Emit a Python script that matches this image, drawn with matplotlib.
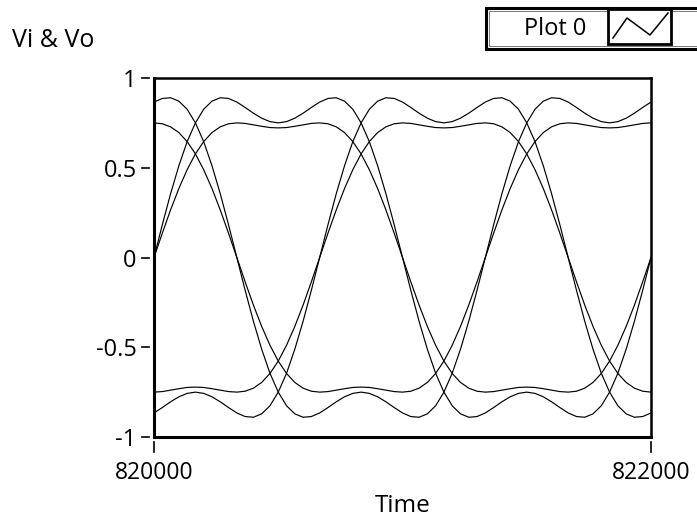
import matplotlib
matplotlib.use("Agg")
import matplotlib.pyplot as plt
import numpy as np
from matplotlib.patches import Rectangle
from matplotlib.lines import Line2D
from matplotlib.transforms import blended_transform_factory

plt.rcParams["font.family"] = ["Open Sans", "DejaVu Sans"]
plt.rcParams["axes.unicode_minus"] = False

# sample times (61 samples, one full period across the x range)
time = np.linspace(820000, 822000, 61)

# three phases, output (outer, rippled) and input (inner, flat-topped)
vo_a = [0.000, 0.182, 0.355, 0.511, 0.645, 0.750, 0.826, 0.871, 0.890, 0.886,
        0.866, 0.836, 0.804, 0.776, 0.757, 0.750, 0.757, 0.776, 0.804, 0.836,
        0.866, 0.886, 0.890, 0.871, 0.826, 0.750, 0.645, 0.511, 0.355, 0.182,
        0.000, -0.182, -0.355, -0.511, -0.645, -0.750, -0.826, -0.871, -0.890, -0.886,
        -0.866, -0.836, -0.804, -0.776, -0.757, -0.750, -0.757, -0.776, -0.804, -0.836,
        -0.866, -0.886, -0.890, -0.871, -0.826, -0.750, -0.645, -0.511, -0.355, -0.182,
        0.000]
vo_b = [0.866, 0.886, 0.890, 0.871, 0.826, 0.750, 0.645, 0.511, 0.355, 0.182,
        0.000, -0.182, -0.355, -0.511, -0.645, -0.750, -0.826, -0.871, -0.890, -0.886,
        -0.866, -0.836, -0.804, -0.776, -0.757, -0.750, -0.757, -0.776, -0.804, -0.836,
        -0.866, -0.886, -0.890, -0.871, -0.826, -0.750, -0.645, -0.511, -0.355, -0.182,
        0.000, 0.182, 0.355, 0.511, 0.645, 0.750, 0.826, 0.871, 0.890, 0.886,
        0.866, 0.836, 0.804, 0.776, 0.757, 0.750, 0.757, 0.776, 0.804, 0.836,
        0.866]
vo_c = [-0.866, -0.836, -0.804, -0.776, -0.757, -0.750, -0.757, -0.776, -0.804, -0.836,
        -0.866, -0.886, -0.890, -0.871, -0.826, -0.750, -0.645, -0.511, -0.355, -0.182,
        0.000, 0.182, 0.355, 0.511, 0.645, 0.750, 0.826, 0.871, 0.890, 0.886,
        0.866, 0.836, 0.804, 0.776, 0.757, 0.750, 0.757, 0.776, 0.804, 0.836,
        0.866, 0.886, 0.890, 0.871, 0.826, 0.750, 0.645, 0.511, 0.355, 0.182,
        0.000, -0.182, -0.355, -0.511, -0.645, -0.750, -0.826, -0.871, -0.890, -0.886,
        -0.866]
vi_a = [0.000, 0.135, 0.265, 0.384, 0.489, 0.577, 0.646, 0.696, 0.728, 0.745,
        0.750, 0.747, 0.739, 0.731, 0.724, 0.722, 0.724, 0.731, 0.739, 0.747,
        0.750, 0.745, 0.728, 0.696, 0.646, 0.577, 0.489, 0.384, 0.265, 0.135,
        0.000, -0.135, -0.265, -0.384, -0.489, -0.577, -0.646, -0.696, -0.728, -0.745,
        -0.750, -0.747, -0.739, -0.731, -0.724, -0.722, -0.724, -0.731, -0.739, -0.747,
        -0.750, -0.745, -0.728, -0.696, -0.646, -0.577, -0.489, -0.384, -0.265, -0.135,
        0.000]
vi_b = [0.750, 0.745, 0.728, 0.696, 0.646, 0.577, 0.489, 0.384, 0.265, 0.135,
        0.000, -0.135, -0.265, -0.384, -0.489, -0.577, -0.646, -0.696, -0.728, -0.745,
        -0.750, -0.747, -0.739, -0.731, -0.724, -0.722, -0.724, -0.731, -0.739, -0.747,
        -0.750, -0.745, -0.728, -0.696, -0.646, -0.577, -0.489, -0.384, -0.265, -0.135,
        0.000, 0.135, 0.265, 0.384, 0.489, 0.577, 0.646, 0.696, 0.728, 0.745,
        0.750, 0.747, 0.739, 0.731, 0.724, 0.722, 0.724, 0.731, 0.739, 0.747,
        0.750]
vi_c = [-0.750, -0.747, -0.739, -0.731, -0.724, -0.722, -0.724, -0.731, -0.739, -0.747,
        -0.750, -0.745, -0.728, -0.696, -0.646, -0.577, -0.489, -0.384, -0.265, -0.135,
        0.000, 0.135, 0.265, 0.384, 0.489, 0.577, 0.646, 0.696, 0.728, 0.745,
        0.750, 0.747, 0.739, 0.731, 0.724, 0.722, 0.724, 0.731, 0.739, 0.747,
        0.750, 0.745, 0.728, 0.696, 0.646, 0.577, 0.489, 0.384, 0.265, 0.135,
        0.000, -0.135, -0.265, -0.384, -0.489, -0.577, -0.646, -0.696, -0.728, -0.745,
        -0.750]

x_ticks = [820000, 822000]
x_labels = ["820000", "822000"]
y_ticks = [-1, -0.5, 0, 0.5, 1]
y_labels = ["-1", "-0.5", "0", "0.5", "1"]

W, H = 697, 524


def fpos(x, y):
    # pixel position -> figure fraction
    return x / W, 1 - y / H


fig = plt.figure(figsize=(W / 100, H / 100), dpi=100)
ax = fig.add_axes([154 / W, 1 - 437 / H, 497 / W, 359 / H])

for series in (vo_a, vo_b, vo_c, vi_a, vi_b, vi_c):
    ax.plot(time, series, color="black", lw=0.85)

ax.set_xlim(820000, 822000)
ax.set_ylim(-1, 1)
ax.set_xticks(x_ticks)
ax.set_xticklabels(x_labels)
ax.set_yticks(y_ticks)
ax.set_yticklabels(y_labels)
ax.tick_params(axis="x", length=0, pad=17, labelsize=16.5)
ax.tick_params(axis="y", length=0, pad=12.5, labelsize=17)
for side in ("left", "bottom"):
    ax.spines[side].set_linewidth(2.2)
for side in ("top", "right"):
    ax.spines[side].set_linewidth(1.8)

# detached tick marks, LabVIEW style
ytr = blended_transform_factory(ax.transAxes, ax.transData)
for v in y_ticks:
    ax.plot([-0.025, -0.011], [v, v], color="black", lw=1.2,
            transform=ytr, clip_on=False)
xtr = blended_transform_factory(ax.transData, ax.transAxes)
for v in x_ticks:
    ax.plot([v, v], [-0.014, -0.042], color="black", lw=1.2,
            transform=xtr, clip_on=False)

fig.text(*fpos(12, 47), "Vi & Vo", fontsize=18, va="baseline", ha="left")
fig.text(*fpos(403, 506), "Time", fontsize=17.5, va="center", ha="center")

# plot legend box in the top right corner
x0, y0 = fpos(486, 49)
fig.patches.append(Rectangle((x0, y0), (720 - 486) / W, 41 / H, fill=True,
                             facecolor="white", edgecolor="black", lw=2.2,
                             transform=fig.transFigure, figure=fig))
x0, y0 = fpos(489, 46)
fig.patches.append(Rectangle((x0, y0), (720 - 489) / W, 35 / H, fill=False,
                             edgecolor="#777777", lw=0.7,
                             transform=fig.transFigure, figure=fig))
x0, y0 = fpos(608, 44)
fig.patches.append(Rectangle((x0, y0), 63 / W, 35 / H, fill=True,
                             facecolor="white", edgecolor="black", lw=2.0,
                             transform=fig.transFigure, figure=fig))
zx = [613, 627, 650, 668]
zy = [38, 18, 35, 13]
fig.lines.append(Line2D([x / W for x in zx], [1 - y / H for y in zy],
                        color="black", lw=1.1, transform=fig.transFigure))
fig.text(*fpos(555, 29), "Plot 0", fontsize=17, va="center", ha="center")

fig.savefig("out.png", dpi=100)
